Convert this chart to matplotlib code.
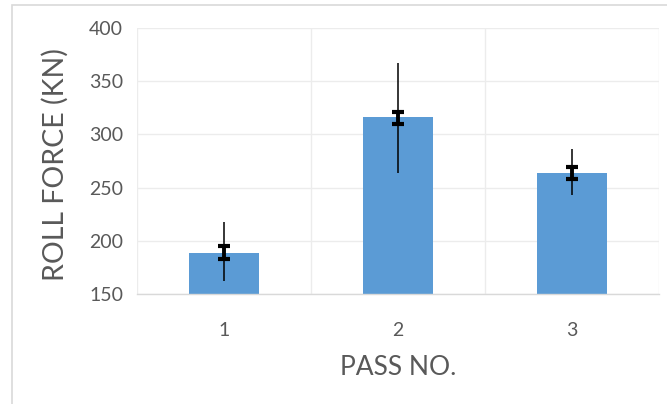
import matplotlib
matplotlib.use("Agg")
import matplotlib.pyplot as plt
from matplotlib.patches import Rectangle

# data
passes = [1, 2, 3]
tick_labels = ["1", "2", "3"]
roll_force = [189, 316, 264]
# wide range (thin line) and short error bar (thick, capped)
range_low = [162, 264, 243]
range_high = [218, 367, 286]
err_low = [183, 310, 258]
err_high = [195, 321, 269]

BAR_COLOR = "#5b9bd5"
TEXT_COLOR = "#595959"
GRID_COLOR = "#ececec"

plt.rcParams["font.family"] = ["Lato", "DejaVu Sans"]

fig = plt.figure(figsize=(6.67, 4.04), dpi=100)
ax = fig.add_axes([137 / 667, 1 - 294 / 404, (659 - 137) / 667, (294 - 28) / 404])

ax.bar(passes, [v - 150 for v in roll_force], bottom=150, width=0.4,
       color=BAR_COLOR, zorder=2)

thin_lo = [v - lo for v, lo in zip(roll_force, range_low)]
thin_hi = [hi - v for v, hi in zip(roll_force, range_high)]
ax.errorbar(passes, roll_force, yerr=[thin_lo, thin_hi], fmt="none",
            ecolor="black", elinewidth=1.1, capsize=0, zorder=3)

mid = [(lo + hi) / 2 for lo, hi in zip(err_low, err_high)]
thick = [(hi - lo) / 2 for lo, hi in zip(err_low, err_high)]
ax.errorbar(passes, mid, yerr=thick, fmt="none", ecolor="black",
            elinewidth=2.8, capsize=4.5, capthick=3.0, zorder=4)

ax.set_xlim(0.5, 3.5)
ax.set_ylim(150, 400)
ax.set_xticks(passes)
ax.set_xticklabels(tick_labels)
ax.set_xticks([0.5, 1.5, 2.5, 3.5], minor=True)
ax.set_yticks(range(150, 401, 50))
ax.tick_params(axis="both", which="both", length=0, colors=TEXT_COLOR,
               labelsize=14)
ax.tick_params(axis="x", pad=20)
ax.tick_params(axis="y", pad=10)

ax.grid(axis="y", which="major", color=GRID_COLOR, linewidth=1.0, zorder=0)
ax.grid(axis="x", which="minor", color=GRID_COLOR, linewidth=1.0, zorder=0)
ax.grid(axis="x", which="major", visible=False)
ax.set_axisbelow(True)

for side in ("top", "right", "left"):
    ax.spines[side].set_visible(False)
ax.spines["bottom"].set_color("#d9d9d9")
ax.spines["bottom"].set_linewidth(1.0)

ax.set_xlabel("PASS NO.", fontsize=19, color=TEXT_COLOR, labelpad=12)
ax.set_ylabel("ROLL FORCE (KN)", fontsize=20.5, color=TEXT_COLOR)
ax.yaxis.set_label_coords(-0.13, 0.487)

# outer chart border
fig.patches.append(Rectangle((12 / 667, -0.05), 1.1, 1 - 5 / 404 + 0.05,
                             transform=fig.transFigure, fill=False,
                             edgecolor="#d9d9d9", linewidth=1.2, zorder=0))

fig.savefig("out.png", dpi=100)
